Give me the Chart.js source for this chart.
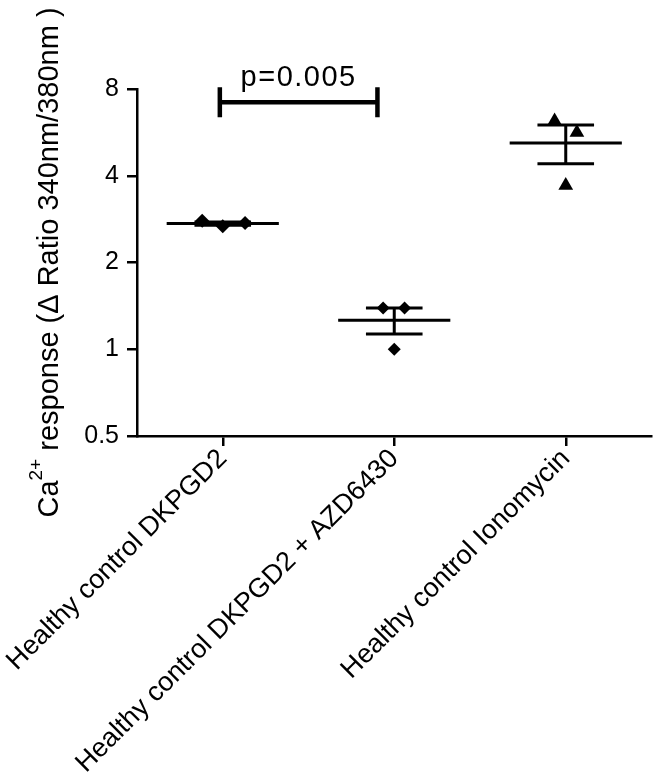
<!DOCTYPE html>
<html>
<head>
<meta charset="utf-8">
<script src="https://cdn.jsdelivr.net/npm/chart.js@4.4.0/dist/chart.umd.min.js"></script>
<style>
  html, body { margin: 0; padding: 0; background: #fff; }
  #wrap { width: 660px; height: 773px; }
</style>
</head>
<body>
<div id="wrap"><canvas id="chart" width="660" height="773"></canvas></div>
<script>
// data
const categories = ['Healthy control DKPGD2', 'Healthy control DKPGD2 + AZD6430', 'Healthy control Ionomycin'];
const dkpgd2Values = [2.79, 2.67, 2.74];
const azdValues = [1.39, 1.39, 1.0];
const ionomycinValues = [6.2, 5.65, 3.7];
const groupMeans = [2.73, 1.26, 5.2];
const groupSem = [0.035, 0.13, 0.8];
const yTicks = [0.5, 1, 2, 4, 8];
const comparison = { from: 0, to: 1, level: 7.2, label: 'p=0.005' };

// styling / placement
const FONT = "'Liberation Sans', Arial, Helvetica, sans-serif";
const jitter = [[-0.12, 0, 0.13], [-0.065, 0.06, 0], [-0.065, 0.065, 0]];
const groups = [
    { values: dkpgd2Values, style: 'rectRot', radius: 7 },
    { values: azdValues, style: 'rectRot', radius: 6.5 },
    { values: ionomycinValues, style: 'triangle', radius: 8.5 }
];

const datasets = groups.map((g, i) => ({
    type: 'scatter',
    data: g.values.map((v, j) => ({ x: i + jitter[i][j], y: v })),
    pointStyle: g.style,
    pointRadius: g.radius,
    backgroundColor: '#000',
    borderColor: '#000',
    borderWidth: 0
}));

// mean line + SEM whiskers
const errorBars = {
    id: 'errorBars',
    beforeDatasetsDraw(chart) {
        const { ctx, scales: { x, y } } = chart;
        ctx.save();
        ctx.strokeStyle = '#000';
        ctx.lineWidth = 3;
        groupMeans.forEach((m, i) => {
            const cx = x.getPixelForValue(i);
            const halfMean = x.getPixelForValue(i + 0.327) - cx;
            const halfCap = x.getPixelForValue(i + 0.165) - cx;
            const my = y.getPixelForValue(m);
            const hi = y.getPixelForValue(m + groupSem[i]);
            const lo = y.getPixelForValue(m - groupSem[i]);
            ctx.beginPath();
            ctx.moveTo(cx - halfMean, my); ctx.lineTo(cx + halfMean, my);
            ctx.moveTo(cx, hi); ctx.lineTo(cx, lo);
            ctx.moveTo(cx - halfCap, hi); ctx.lineTo(cx + halfCap, hi);
            ctx.moveTo(cx - halfCap, lo); ctx.lineTo(cx + halfCap, lo);
            ctx.stroke();
        });
        ctx.restore();
    }
};

// significance bracket
const bracket = {
    id: 'bracket',
    afterDatasetsDraw(chart) {
        const { ctx, scales: { x, y } } = chart;
        const x0 = x.getPixelForValue(comparison.from - 0.017);
        const x1 = x.getPixelForValue(comparison.to - 0.098);
        const by = y.getPixelForValue(comparison.level);
        ctx.save();
        ctx.strokeStyle = '#000';
        ctx.lineWidth = 4.5;
        ctx.beginPath();
        ctx.moveTo(x0, by); ctx.lineTo(x1, by);
        ctx.moveTo(x0, by - 15); ctx.lineTo(x0, by + 15);
        ctx.moveTo(x1, by - 15); ctx.lineTo(x1, by + 15);
        ctx.stroke();
        ctx.fillStyle = '#000';
        ctx.font = '29px ' + FONT;
        ctx.letterSpacing = '1.5px';
        ctx.textAlign = 'center';
        ctx.textBaseline = 'alphabetic';
        ctx.fillText(comparison.label, (x0 + x1) / 2, by - 16);
        ctx.restore();
    }
};

// y axis title with superscript
const yTitle = {
    id: 'yTitle',
    afterDraw(chart) {
        const { ctx, chartArea } = chart;
        const big = '29px ' + FONT, small = '19px ' + FONT;
        const parts = [
            { t: 'Ca', f: big, dy: 0 },
            { t: '2+', f: small, dy: -13 },
            { t: ' response (\u0394 Ratio 340nm/380nm )', f: big, dy: 0 }
        ];
        ctx.save();
        let total = 0;
        parts.forEach(p => { ctx.font = p.f; p.w = ctx.measureText(p.t).width; total += p.w; });
        ctx.translate(50, (chartArea.top + chartArea.bottom) / 2);
        ctx.rotate(-Math.PI / 2);
        ctx.fillStyle = '#000';
        ctx.textBaseline = 'middle';
        let pos = -total / 2;
        parts.forEach(p => {
            ctx.font = p.f;
            ctx.fillText(p.t, pos, p.dy);
            pos += p.w;
        });
        ctx.restore();
    }
};

const axisGrid = { drawOnChartArea: false, drawTicks: true, tickLength: 10, color: '#000', lineWidth: 2.5 };
const axisBorder = { display: true, color: '#000', width: 2.5 };

new Chart(document.getElementById('chart'), {
    type: 'scatter',
    data: { datasets },
    options: {
        responsive: false,
        animation: false,
        devicePixelRatio: 1,
        layout: { padding: { top: 89, right: 3, left: 0, bottom: 0 } },
        plugins: { legend: { display: false }, tooltip: { enabled: false } },
        scales: {
            x: {
                type: 'linear',
                min: -0.5,
                max: 2.5,
                afterBuildTicks: s => { s.ticks = categories.map((c, i) => ({ value: i })); },
                afterFit: s => { s.height = 337; s.paddingLeft = 0; s.paddingRight = 0; },
                ticks: {
                    callback: v => categories[v],
                    autoSkip: false,
                    minRotation: 45,
                    maxRotation: 45,
                    padding: -3,
                    color: '#000',
                    font: { family: FONT, size: 27 }
                },
                grid: axisGrid,
                border: axisBorder
            },
            y: {
                type: 'logarithmic',
                min: 0.5,
                max: 8,
                afterBuildTicks: s => { s.ticks = yTicks.map(v => ({ value: v })); },
                afterFit: s => { s.width = 137; s.paddingTop = 0; s.paddingBottom = 0; },
                ticks: {
                    callback: v => String(v),
                    crossAlign: 'near',
                    padding: 8,
                    color: '#000',
                    font: { family: FONT, size: 25 }
                },
                grid: axisGrid,
                border: axisBorder
            }
        }
    },
    plugins: [errorBars, bracket, yTitle]
});
</script>
</body>
</html>
